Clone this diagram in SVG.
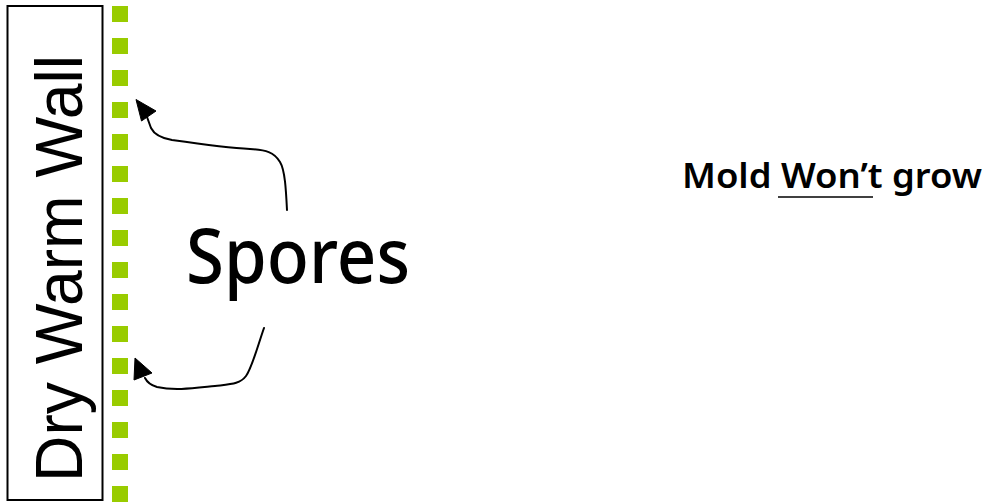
<svg xmlns="http://www.w3.org/2000/svg" width="986" height="502" viewBox="0 0 986 502">
  <style>
    .wall-box { fill: #ffffff; stroke: #000000; stroke-width: 2; }
    .wall-label { font-family: "Liberation Sans", Arial, sans-serif; font-size: 67px; fill: #000000; }
    .hand { font-family: "Comic Sans MS", "Noto Sans", sans-serif; fill: #000000; }
    .surface { stroke: #99cc00; stroke-width: 16; stroke-dasharray: 16 16; fill: none; }
    .conn { fill: none; stroke: #000000; stroke-width: 2; stroke-linecap: round; stroke-linejoin: round; }
    .head { fill: #000000; stroke: #000000; stroke-width: 1; stroke-linejoin: round; }
  </style>
  <rect width="986" height="502" fill="#ffffff"/>
  <g id="wall">
    <rect class="wall-box" x="7.5" y="6" width="95" height="494"/>
    <text class="wall-label" transform="translate(82,268.5) rotate(-90)" text-anchor="middle" textLength="427" lengthAdjust="spacingAndGlyphs">Dry Warm Wall</text>
  </g>
  <g id="wall-surface">
    <line class="surface" x1="120" y1="6" x2="120" y2="502"/>
  </g>
  <g id="spores">
    <text class="hand" x="186" y="283" font-size="76" textLength="224" lengthAdjust="spacingAndGlyphs" font-weight="500">Spores</text>
  </g>
  <g id="mold-note">
    <text class="hand" x="682" y="188" font-size="35" textLength="300" lengthAdjust="spacingAndGlyphs" font-weight="600">Mold Won’t grow</text>
    <line x1="778" y1="197" x2="873" y2="197" stroke="#000000" stroke-width="1.5"/>
  </g>
  <g id="connectors">
    <path class="conn" d="M287,210 C286,190 285,170 280,162 C274,152 266,150 250,149 C230,148 200,144 172,140 C160,138 154,134 151,128 L147,117"/>
    <polygon class="head" points="136,99.5 156,111 141.5,121"/>
    <path class="conn" d="M264,328 C258,345 252,368 246,376 C240,384 232,384 215,386 C195,388 175,391 157,387 C150,385 147,382 145,378"/>
    <polygon class="head" points="135,358 152,373 134,380"/>
  </g>
</svg>
